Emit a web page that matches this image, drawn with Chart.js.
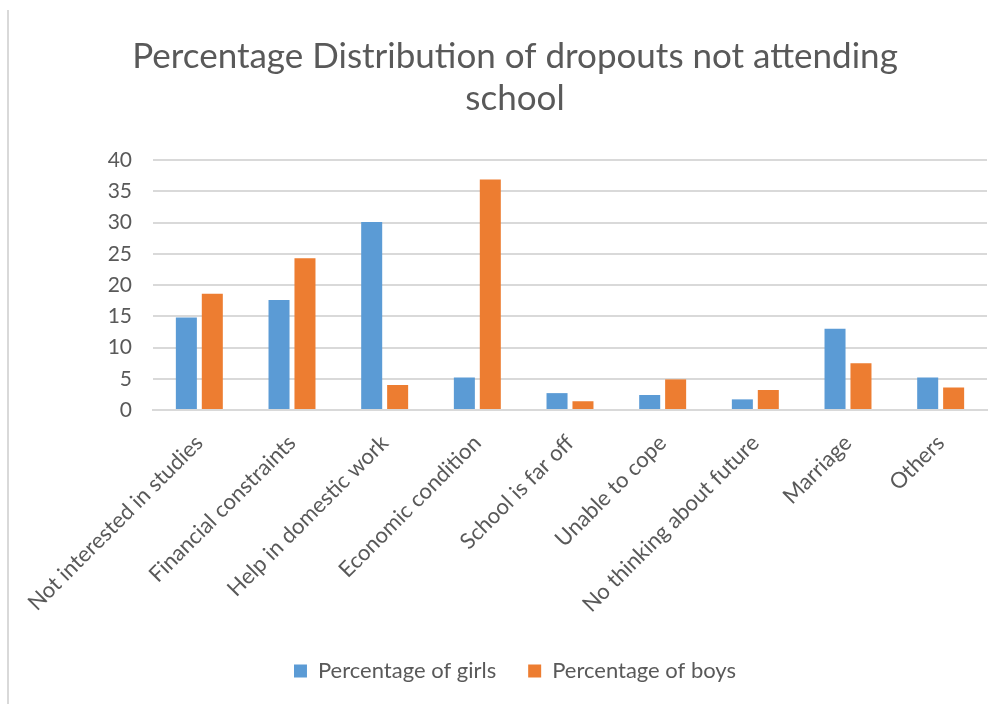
<!DOCTYPE html>
<html>
<head>
  <title>Dropouts chart</title>
  <script src="https://cdn.jsdelivr.net/npm/chart.js"></script>
  <style>
    body {
      margin: 0;
      padding: 0;
      background: #ffffff;
    }

    #wrap {
      position: relative;
      width: 1008px;
      height: 704px;
    }

    #frame {
      position: absolute;
      left: 7px;
      top: 10px;
      bottom: 0;
      border-left: 2px solid #d9d9d9;
    }
  </style>
</head>
<body>

  <div id="wrap">
    <div id="frame"></div>
    <canvas id="myChart" width="1008" height="704"></canvas>
  </div>

  <script>
    const categories = [
      'Not interested in studies',
      'Financial constraints',
      'Help in domestic work',
      'Economic condition',
      'School is far off',
      'Unable to cope',
      'No thinking about future',
      'Marriage',
      'Others'
    ];
    const girls = [14.8, 17.6, 30.1, 5.2, 2.7, 2.4, 1.7, 13.0, 5.2];
    const boys = [18.6, 24.3, 4.0, 36.9, 1.4, 4.9, 3.2, 7.5, 3.6];
    const yTicks = [0, 5, 10, 15, 20, 25, 30, 35, 40];

    const fontFam = 'Lato, "Open Sans", sans-serif';
    const grey = '#595959';

    const ctx = document.getElementById('myChart').getContext('2d');
    const chart = new Chart(ctx, {
      type: 'bar',
      data: {
        labels: categories,
        datasets: [{
          label: 'Percentage of girls',
          data: girls,
          backgroundColor: '#5b9bd5',
          categoryPercentage: 0.56,
          barPercentage: 0.81
        }, {
          label: 'Percentage of boys',
          data: boys,
          backgroundColor: '#ed7d31',
          categoryPercentage: 0.56,
          barPercentage: 0.81
        }]
      },
      options: {
        responsive: false,
        animation: false,
        layout: {
          padding: { left: 43, right: 21, top: 0, bottom: 12 }
        },
        plugins: {
          title: {
            display: true,
            text: ['Percentage Distribution of dropouts not attending', 'school'],
            color: grey,
            font: { family: fontFam, size: 35, weight: 'normal' },
            lineHeight: 1.23,
            padding: { top: 36, bottom: 40 }
          },
          legend: {
            position: 'bottom',
            labels: {
              color: grey,
              font: { family: fontFam, size: 22 },
              boxWidth: 13,
              boxHeight: 13,
              padding: 32
            }
          },
          tooltip: { enabled: false }
        },
        scales: {
          x: {
            grid: { display: false },
            border: { color: '#d9d9d9', width: 2 },
            ticks: {
              color: grey,
              font: { family: fontFam, size: 22 },
              maxRotation: 45,
              minRotation: 45,
              padding: 12
            },
            afterFit: axis => { axis.height = 218; }
          },
          y: {
            min: 0,
            max: 40,
            afterBuildTicks: axis => {
              axis.ticks = yTicks.map(v => ({ value: v }));
            },
            grid: { color: '#d9d9d9', lineWidth: 2, drawTicks: false },
            border: { display: false },
            ticks: {
              color: grey,
              font: { family: fontFam, size: 21 },
              padding: 21
            },
            afterFit: axis => { axis.width = 110; }
          }
        }
      }
    });
  </script>

</body>
</html>
